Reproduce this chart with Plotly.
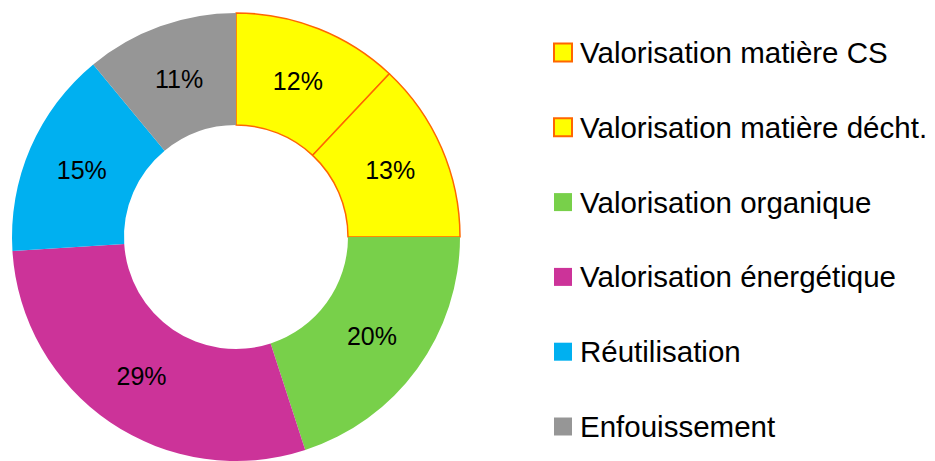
import plotly.graph_objects as go

labels = ["Valorisation matière CS", "Valorisation matière décht.", "Valorisation organique",
          "Valorisation énergétique", "Réutilisation", "Enfouissement"]
values = [12, 13, 20, 29, 15, 11]
colors = ["#FFFF00", "#FFFF00", "#78D04A", "#CC3399", "#00B0F0", "#969696"]
line_colors = ["#FF6600", "#FF6600", "rgba(0,0,0,0)", "rgba(0,0,0,0)", "rgba(0,0,0,0)", "rgba(0,0,0,0)"]
line_widths = [1.5, 1.5, 0, 0, 0, 0]

W, H = 935, 461
TOP = 13
PH = H - TOP
FONT = "Liberation Sans, Arial, sans-serif"

fig = go.Figure()
fig.add_trace(go.Pie(
    labels=labels, values=values, sort=False, direction="clockwise", rotation=0,
    hole=0.5,
    marker=dict(colors=colors, line=dict(color=line_colors, width=line_widths)),
    texttemplate="%{value}%", textposition="inside", insidetextorientation="horizontal",
    textfont=dict(family=FONT, size=25, color="black"),
    showlegend=False, hoverinfo="label+value",
    domain=dict(x=[9 / W, 463 / W], y=[0, 1]),
))


def py(pix):
    # pixel row (from top of page) -> paper y
    return 1 - (pix - TOP) / PH


# Legend built from the label list
shapes, annotations = [], []
y0, dy, sq = 52.5, 74.8, 18
for i, (lab, c, lc, lw) in enumerate(zip(labels, colors, line_colors, line_widths)):
    yc = y0 + dy * i
    shapes.append(dict(type="rect", xref="paper", yref="paper",
                       x0=554 / W, x1=(554 + sq) / W,
                       y0=py(yc + sq / 2), y1=py(yc - sq / 2),
                       fillcolor=c, line=dict(color=lc, width=2 if lw else 0)))
    annotations.append(dict(text=lab, xref="paper", yref="paper", x=578 / W, y=py(yc),
                            xanchor="left", yanchor="middle", showarrow=False,
                            font=dict(family=FONT, size=29.5, color="black")))

fig.update_layout(
    width=W, height=H,
    margin=dict(l=0, r=0, t=TOP, b=0),
    paper_bgcolor="white", plot_bgcolor="white",
    shapes=shapes, annotations=annotations,
)
fig.write_html("out.html", config={"displayModeBar": False},
               post_script="document.body.style.margin='0';document.body.style.overflow='hidden';")
